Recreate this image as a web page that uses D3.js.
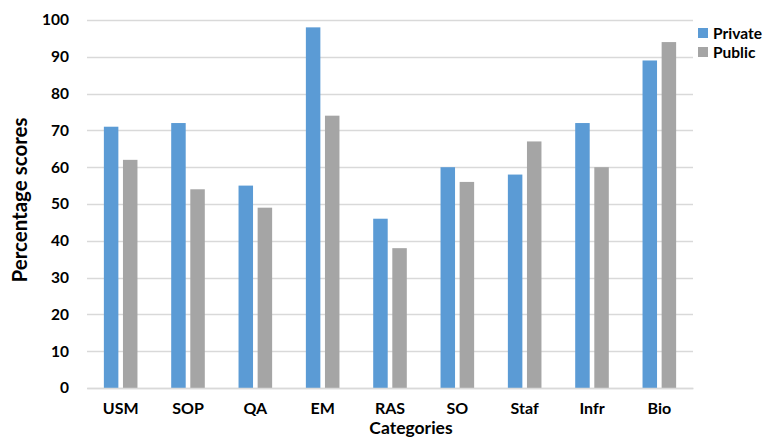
<!DOCTYPE html>
<html>
<head>
<meta charset="utf-8">
<script src="https://cdn.jsdelivr.net/npm/d3@7"></script>
<style>
  html, body { margin: 0; padding: 0; background: #fff; }
  svg { display: block; }
  text { font-family: Lato, "Open Sans", sans-serif; font-weight: bold; fill: #000; }
</style>
</head>
<body>
<svg id="chart" width="772" height="437"></svg>
<script>
const categories = ["USM", "SOP", "QA", "EM", "RAS", "SO", "Staf", "Infr", "Bio"];
const seriesNames = ["Private", "Public"];
const privateScores = [71, 72, 55, 98, 46, 60, 58, 72, 89];
const publicScores = [62, 54, 49, 74, 38, 56, 67, 60, 94];
const yTicks = [0, 10, 20, 30, 40, 50, 60, 70, 80, 90, 100];
const colors = ["#5b9bd5", "#a5a5a5"];

const svg = d3.select("#chart");
const margin = { left: 87, right: 79, top: 20, bottom: 49 };
const W = 772, H = 437;
const plotW = W - margin.left - margin.right;
const plotH = H - margin.top - margin.bottom;

const g = svg.append("g").attr("transform", `translate(${margin.left},${margin.top})`);

const x = d3.scaleBand().domain(categories).range([0, plotW]).paddingInner(0).paddingOuter(0);
const y = d3.scaleLinear().domain([0, 100]).range([plotH, 0]);

// horizontal gridlines
g.append("g").selectAll("line").data(yTicks).join("line")
  .attr("x1", 0).attr("x2", plotW)
  .attr("y1", d => Math.round(y(d)) + 0.5).attr("y2", d => Math.round(y(d)) + 0.5)
  .attr("stroke", "#d9d9d9").attr("stroke-width", 1.5);

// y axis labels
const yAxis = d3.axisLeft(y).tickValues(yTicks).tickSize(0).tickPadding(18);
const ya = g.append("g").call(yAxis);
ya.select(".domain").remove();
ya.selectAll("text").attr("font-size", 15.5).attr("font-family", "Lato, 'Open Sans', sans-serif").attr("font-weight", "bold").attr("fill", "#000");

// bars
const barW = 14.5, gap = 4.6;
const rows = categories.map((c, i) => ({ c, vals: [privateScores[i], publicScores[i]] }));
const groups = g.append("g").selectAll("g").data(rows).join("g")
  .attr("transform", d => `translate(${x(d.c) + x.bandwidth() / 2},0)`);
groups.selectAll("rect").data(d => d.vals.map((v, k) => ({ v, k }))).join("rect")
  .attr("x", d => d.k === 0 ? -(barW + gap / 2) : gap / 2)
  .attr("width", barW)
  .attr("y", d => y(d.v))
  .attr("height", d => y(0) - y(d.v))
  .attr("fill", d => colors[d.k]);

// x axis
const xAxis = d3.axisBottom(x).tickSize(0).tickPadding(15);
const xa = g.append("g").attr("transform", `translate(0,${plotH})`).call(xAxis);
xa.select(".domain").attr("stroke", "#d9d9d9").attr("stroke-width", 1.5);
xa.selectAll("text").attr("font-size", 16).attr("font-family", "Lato, 'Open Sans', sans-serif").attr("font-weight", "bold").attr("fill", "#000");

// axis titles
svg.append("text")
  .attr("transform", `translate(27,200) rotate(-90)`)
  .attr("text-anchor", "middle")
  .attr("font-size", 20.5)
  .text("Percentage scores");

svg.append("text")
  .attr("x", 411)
  .attr("y", 434)
  .attr("text-anchor", "middle")
  .attr("font-size", 17.5)
  .text("Categories");

// legend
const legend = svg.append("g").attr("transform", "translate(698,28)");
seriesNames.forEach((name, i) => {
  legend.append("rect").attr("x", 0).attr("y", i * 19).attr("width", 10).attr("height", 10).attr("fill", colors[i]);
  legend.append("text").attr("x", 15).attr("y", i * 19 + 11).attr("font-size", 15.5).text(name);
});
</script>
</body>
</html>
